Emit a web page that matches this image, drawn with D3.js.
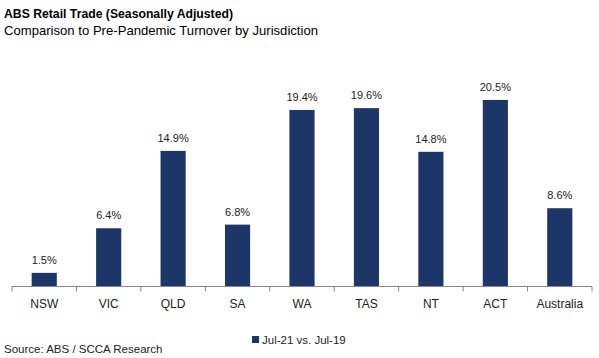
<!DOCTYPE html>
<html><head><meta charset="utf-8">
<script src="https://cdn.jsdelivr.net/npm/d3@7"></script>
<style>body{margin:0;background:#fff}</style>
</head><body>
<svg id="c" width="599" height="358"></svg>
<script>
const categories = ["NSW","VIC","QLD","SA","WA","TAS","NT","ACT","Australia"];
const values = [1.5,6.4,14.9,6.8,19.4,19.6,14.8,20.5,8.6];
const seriesName = "Jul-21 vs. Jul-19";
const title = "ABS Retail Trade (Seasonally Adjusted)";
const subtitle = "Comparison to Pre-Pandemic Turnover by Jurisdiction";
const source = "Source: ABS / SCCA Research";

const svg = d3.select("#c");
const font = "'Liberation Sans', Arial, sans-serif";
const color = "#1c3667";
const x = d3.scaleBand().domain(categories).range([12, 592]).paddingInner(0.61).paddingOuter(0.305);
const y = d3.scaleLinear().domain([0, 25]).range([286.5, 59]);

svg.append("text").attr("x",4).attr("y",18).attr("font-family",font).attr("font-weight","bold")
  .attr("font-size",13).attr("fill","#000").attr("textLength",229).attr("lengthAdjust","spacingAndGlyphs").text(title);
svg.append("text").attr("x",4).attr("y",35).attr("font-family",font)
  .attr("font-size",13).attr("fill","#000").attr("textLength",314).attr("lengthAdjust","spacingAndGlyphs").text(subtitle);

svg.selectAll("rect.bar").data(values).join("rect").attr("class","bar")
  .attr("x",(d,i)=>x(categories[i])).attr("width",x.bandwidth())
  .attr("y",d=>y(d)).attr("height",d=>y(0)-y(d)).attr("fill",color);

svg.selectAll("text.lbl").data(values).join("text").attr("class","lbl")
  .attr("x",(d,i)=>x(categories[i])+x.bandwidth()/2).attr("y",d=>y(d)-9)
  .attr("text-anchor","middle").attr("font-family",font).attr("font-size",11).attr("fill","#222")
  .text(d=>d.toFixed(1)+"%");

const ax = svg.append("g").attr("transform",`translate(0,${y(0)})`)
  .call(d3.axisBottom(x).tickSize(0).tickPadding(0));
ax.select(".domain").remove();
ax.selectAll("text").attr("font-family",font).attr("font-size",12).attr("fill","#222").attr("dy",null).attr("y",21.5);
svg.append("line").attr("x1",12).attr("x2",592).attr("y1",y(0)).attr("y2",y(0)).attr("stroke","#868686").attr("stroke-width",1);
const step = x.step();
const tickXs = d3.range(categories.length+1).map(i => 12 + i*step);
svg.selectAll("line.tk").data(tickXs).join("line").attr("class","tk")
  .attr("x1",d=>d).attr("x2",d=>d).attr("y1",y(0)).attr("y2",y(0)+5).attr("stroke","#868686");

svg.append("rect").attr("x",252).attr("y",336).attr("width",7).attr("height",7).attr("fill",color);
svg.append("text").attr("x",262).attr("y",343.5).attr("font-family",font).attr("font-size",11.5).attr("fill","#222").text(seriesName);
svg.append("text").attr("x",4).attr("y",352.5).attr("font-family",font).attr("font-size",11.5).attr("fill","#222").text(source);
</script>
</body></html>
